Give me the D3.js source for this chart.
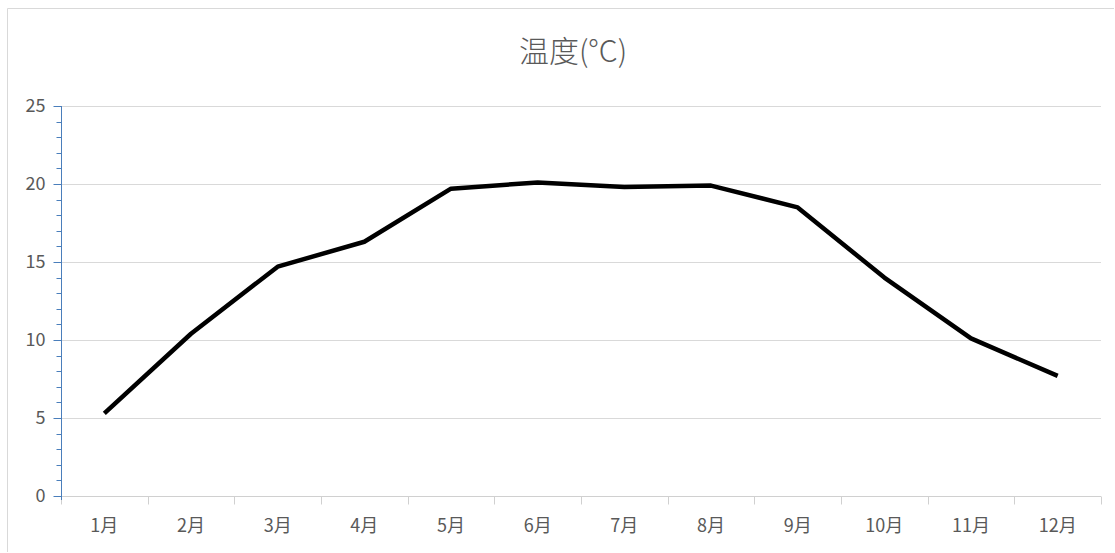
<!DOCTYPE html>
<html>
<head>
<meta charset="utf-8">
<script src="https://cdn.jsdelivr.net/npm/d3@7"></script>
<style>
  html, body { margin: 0; padding: 0; background: #fff; overflow: hidden; }
  svg { display: block; }
  text { font-family: "Noto Sans CJK SC", "Liberation Sans", sans-serif; fill: #595959; }
</style>
</head>
<body>
<svg id="chart"></svg>
<script>
const months = ['1月', '2月', '3月', '4月', '5月', '6月', '7月', '8月', '9月', '10月', '11月', '12月'];
const temps = [5.3, 10.4, 14.7, 16.3, 19.7, 20.1, 19.8, 19.9, 18.5, 14.0, 10.1, 7.7];
const yTicks = [0, 5, 10, 15, 20, 25];
const chartTitle = '温度(°C)';

const width = 1115, height = 553;
const margin = {top: 106, right: 14, bottom: 57, left: 61};
const innerWidth = width - margin.left - margin.right;
const innerHeight = height - margin.top - margin.bottom;

const svg = d3.select('#chart')
  .attr('width', width)
  .attr('height', height);

// chart frame: top and left edges
svg.append('line')
  .attr('x1', 7.5).attr('x2', 7.5).attr('y1', 8.5).attr('y2', height - 1)
  .attr('stroke', '#d9d9d9');
svg.append('line')
  .attr('x1', 7.5).attr('x2', width - 1).attr('y1', 8.5).attr('y2', 8.5)
  .attr('stroke', '#d9d9d9');

svg.append('text')
  .attr('x', 573).attr('y', 62)
  .attr('text-anchor', 'middle')
  .attr('font-size', 30)
  .attr('font-weight', 300)
  .text(chartTitle);

const viewPort = svg.append('g')
  .attr('transform', `translate(${margin.left}, ${margin.top})`);

const xScale = d3.scaleBand()
  .domain(months)
  .range([0, innerWidth]);

const yScale = d3.scaleLinear()
  .domain([0, 25])
  .range([innerHeight, 0]);

// gridlines
viewPort.append('g')
  .selectAll('line')
  .data(yTicks.filter(d => d > 0)).enter()
  .append('line')
  .attr('x1', 0).attr('x2', innerWidth)
  .attr('y1', d => Math.round(yScale(d)) + 0.5)
  .attr('y2', d => Math.round(yScale(d)) + 0.5)
  .attr('stroke', '#d9d9d9');

// x axis: line + boundary ticks
const xAxisG = viewPort.append('g')
  .attr('transform', `translate(0, ${innerHeight + 0.5})`);
xAxisG.append('line')
  .attr('x1', 0).attr('x2', innerWidth)
  .attr('stroke', '#d0d0d0');
xAxisG.selectAll('line.bound')
  .data(months.map(m => xScale(m)).concat([innerWidth])).enter()
  .append('line')
  .attr('class', 'bound')
  .attr('x1', d => Math.round(d) + 0.5).attr('x2', d => Math.round(d) + 0.5)
  .attr('y1', 0).attr('y2', 8)
  .attr('stroke', '#d0d0d0');
xAxisG.selectAll('text')
  .data(months).enter()
  .append('text')
  .attr('x', d => xScale(d) + xScale.bandwidth() / 2)
  .attr('y', 35)
  .attr('text-anchor', 'middle')
  .attr('font-size', 18)
  .text(d => d);

// y axis: minor ticks every 1, major every 5
const yAxisG = viewPort.append('g').attr('transform', 'translate(0.5, 0)');
yAxisG.append('g')
  .selectAll('line')
  .data(d3.range(0, 26, 1)).enter()
  .append('line')
  .attr('x1', -5).attr('x2', 0)
  .attr('y1', d => Math.round(yScale(d)) + 0.5)
  .attr('y2', d => Math.round(yScale(d)) + 0.5)
  .attr('stroke', '#4a7ebb');
yAxisG.call(d3.axisLeft(yScale).tickValues(yTicks).tickSize(8).tickPadding(8))
  .call(g => g.select('.domain').attr('d', `M0,${innerHeight + 4}V0`).attr('stroke', '#4a7ebb'))
  .call(g => g.selectAll('.tick line').attr('stroke', '#4a7ebb'))
  .call(g => g.selectAll('.tick text').attr('font-size', 18).attr('fill', '#595959')
    .attr('font-family', '"Noto Sans CJK SC", "Liberation Sans", sans-serif'));

// temperature line
const line = d3.line()
  .x((d, i) => xScale(months[i]) + xScale.bandwidth() / 2)
  .y(d => yScale(d));

viewPort.append('path')
  .datum(temps)
  .attr('d', line)
  .attr('fill', 'none')
  .attr('stroke', '#000')
  .attr('stroke-width', 4.5)
  .attr('stroke-linejoin', 'round');
</script>
</body>
</html>
